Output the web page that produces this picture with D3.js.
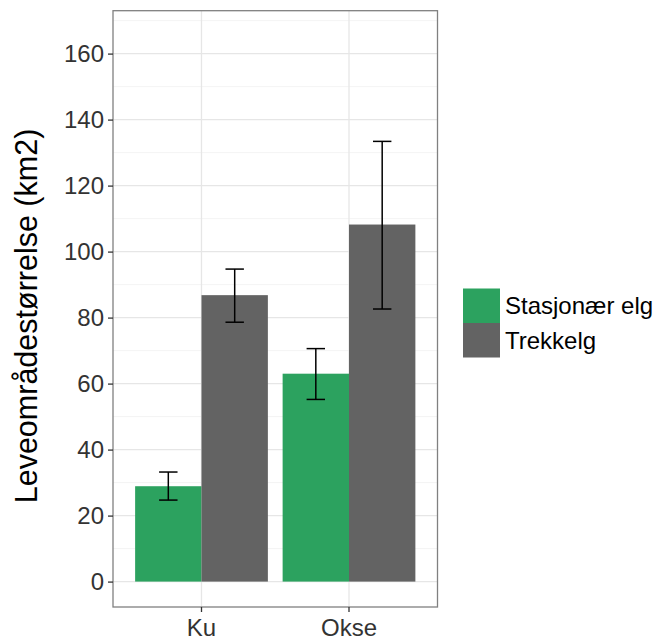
<!DOCTYPE html>
<html>
<head>
<meta charset="utf-8">
<script src="https://cdn.jsdelivr.net/npm/d3@7"></script>
<style>
    body { margin: 0; background: #fff; }
    text { font-family: "Liberation Sans", Arial, sans-serif; }
</style>
</head>
<body>
<div id="chart"></div>
<script>
'use strict';

// data
var categories = ["Ku", "Okse"];
var seriesNames = ["Stasjonær elg", "Trekkelg"];
var stasjonaerMean = [28.9, 63.0];
var stasjonaerLow = [24.7, 55.2];
var stasjonaerHigh = [33.2, 70.6];
var trekkMean = [86.8, 108.2];
var trekkLow = [78.6, 82.6];
var trekkHigh = [94.7, 133.4];
var yTicks = [0, 20, 40, 60, 80, 100, 120, 140, 160];
var colors = ["#2ca25f", "#636363"];

var width = 670, height = 640;
var panel = {left: 113, right: 437.5, top: 10.7, bottom: 607};

var rows = [];
categories.forEach(function (c, i) {
    rows.push({cat: c, series: seriesNames[0], mean: stasjonaerMean[i], lo: stasjonaerLow[i], hi: stasjonaerHigh[i]});
    rows.push({cat: c, series: seriesNames[1], mean: trekkMean[i], lo: trekkLow[i], hi: trekkHigh[i]});
});

var svg = d3.select("#chart").append("svg")
    .attr("width", width)
    .attr("height", height);

var x = d3.scaleBand()
    .domain(categories)
    .range([panel.left, panel.right])
    .paddingInner(0)
    .paddingOuter(0.1);

var xSub = d3.scaleBand()
    .domain(seriesNames)
    .range([x.bandwidth() * 0.05, x.bandwidth() * 0.95]);

var y = d3.scaleLinear()
    .domain([-7.7, 173])
    .range([panel.bottom, panel.top]);

var color = d3.scaleOrdinal().domain(seriesNames).range(colors);

// minor grid
var minor = d3.range(10, 171, 20);
svg.append("g").selectAll("line")
    .data(minor)
    .enter().append("line")
    .attr("x1", panel.left).attr("x2", panel.right)
    .attr("y1", function (d) { return y(d); })
    .attr("y2", function (d) { return y(d); })
    .attr("stroke", "#f0f0f0")
    .attr("stroke-width", 0.8);

// major grid
svg.append("g").selectAll("line")
    .data(yTicks)
    .enter().append("line")
    .attr("x1", panel.left).attr("x2", panel.right)
    .attr("y1", function (d) { return y(d); })
    .attr("y2", function (d) { return y(d); })
    .attr("stroke", "#e6e6e6")
    .attr("stroke-width", 1.3);

svg.append("g").selectAll("line")
    .data(categories)
    .enter().append("line")
    .attr("x1", function (d) { return x(d) + x.bandwidth() / 2; })
    .attr("x2", function (d) { return x(d) + x.bandwidth() / 2; })
    .attr("y1", panel.top).attr("y2", panel.bottom)
    .attr("stroke", "#e6e6e6")
    .attr("stroke-width", 1.3);

// bars
svg.append("g").selectAll("rect")
    .data(rows)
    .enter().append("rect")
    .attr("x", function (d) { return x(d.cat) + xSub(d.series); })
    .attr("width", xSub.bandwidth())
    .attr("y", function (d) { return y(d.mean); })
    .attr("height", function (d) { return y(0) - y(d.mean); })
    .attr("fill", function (d) { return color(d.series); });

// error bars
var capHalf = x.step() * 0.0625;
var eb = svg.append("g").selectAll("g")
    .data(rows)
    .enter().append("g")
    .attr("stroke", "#000")
    .attr("stroke-width", 1.5);

function cx(d) { return x(d.cat) + xSub(d.series) + xSub.bandwidth() / 2; }

eb.append("line")
    .attr("x1", cx).attr("x2", cx)
    .attr("y1", function (d) { return y(d.lo); })
    .attr("y2", function (d) { return y(d.hi); });
eb.append("line")
    .attr("x1", function (d) { return cx(d) - capHalf; })
    .attr("x2", function (d) { return cx(d) + capHalf; })
    .attr("y1", function (d) { return y(d.hi); })
    .attr("y2", function (d) { return y(d.hi); });
eb.append("line")
    .attr("x1", function (d) { return cx(d) - capHalf; })
    .attr("x2", function (d) { return cx(d) + capHalf; })
    .attr("y1", function (d) { return y(d.lo); })
    .attr("y2", function (d) { return y(d.lo); });

// panel border
svg.append("rect")
    .attr("x", panel.left).attr("y", panel.top)
    .attr("width", panel.right - panel.left)
    .attr("height", panel.bottom - panel.top)
    .attr("fill", "none")
    .attr("stroke", "#808080")
    .attr("stroke-width", 1.3);

// axes
var yAxis = svg.append("g")
    .attr("transform", "translate(" + panel.left + ",0)")
    .call(d3.axisLeft(y).tickValues(yTicks).tickSize(5).tickPadding(4));
var xAxis = svg.append("g")
    .attr("transform", "translate(0," + panel.bottom + ")")
    .call(d3.axisBottom(x).tickSize(5).tickPadding(7));

[yAxis, xAxis].forEach(function (a) {
    a.select(".domain").remove();
    a.selectAll(".tick line").attr("stroke", "#333").attr("stroke-width", 1.3);
    a.selectAll(".tick text")
        .attr("fill", "#333")
        .style("font-size", "24px")
        .style("font-family", "'Liberation Sans', Arial, sans-serif");
});
xAxis.selectAll(".tick text").attr("dy", "0.72em");

// y title
svg.append("text")
    .attr("transform", "translate(37," + 316 + ") rotate(-90)")
    .attr("text-anchor", "middle")
    .style("font-size", "30.5px")
    .attr("fill", "#000")
    .text("Leveområdestørrelse (km2)");

// legend
var legend = svg.append("g")
    .attr("transform", "translate(463,288.5)");
var li = legend.selectAll("g")
    .data(seriesNames)
    .enter().append("g")
    .attr("transform", function (d, i) { return "translate(0," + (i * 34.5) + ")"; });
li.append("rect")
    .attr("width", 37)
    .attr("height", 34.5)
    .attr("fill", function (d) { return color(d); });
li.append("text")
    .attr("x", 42)
    .attr("y", 17.25)
    .attr("dy", "0.36em")
    .style("font-size", "24px")
    .attr("fill", "#000")
    .text(function (d) { return d; });
</script>
</body>
</html>
